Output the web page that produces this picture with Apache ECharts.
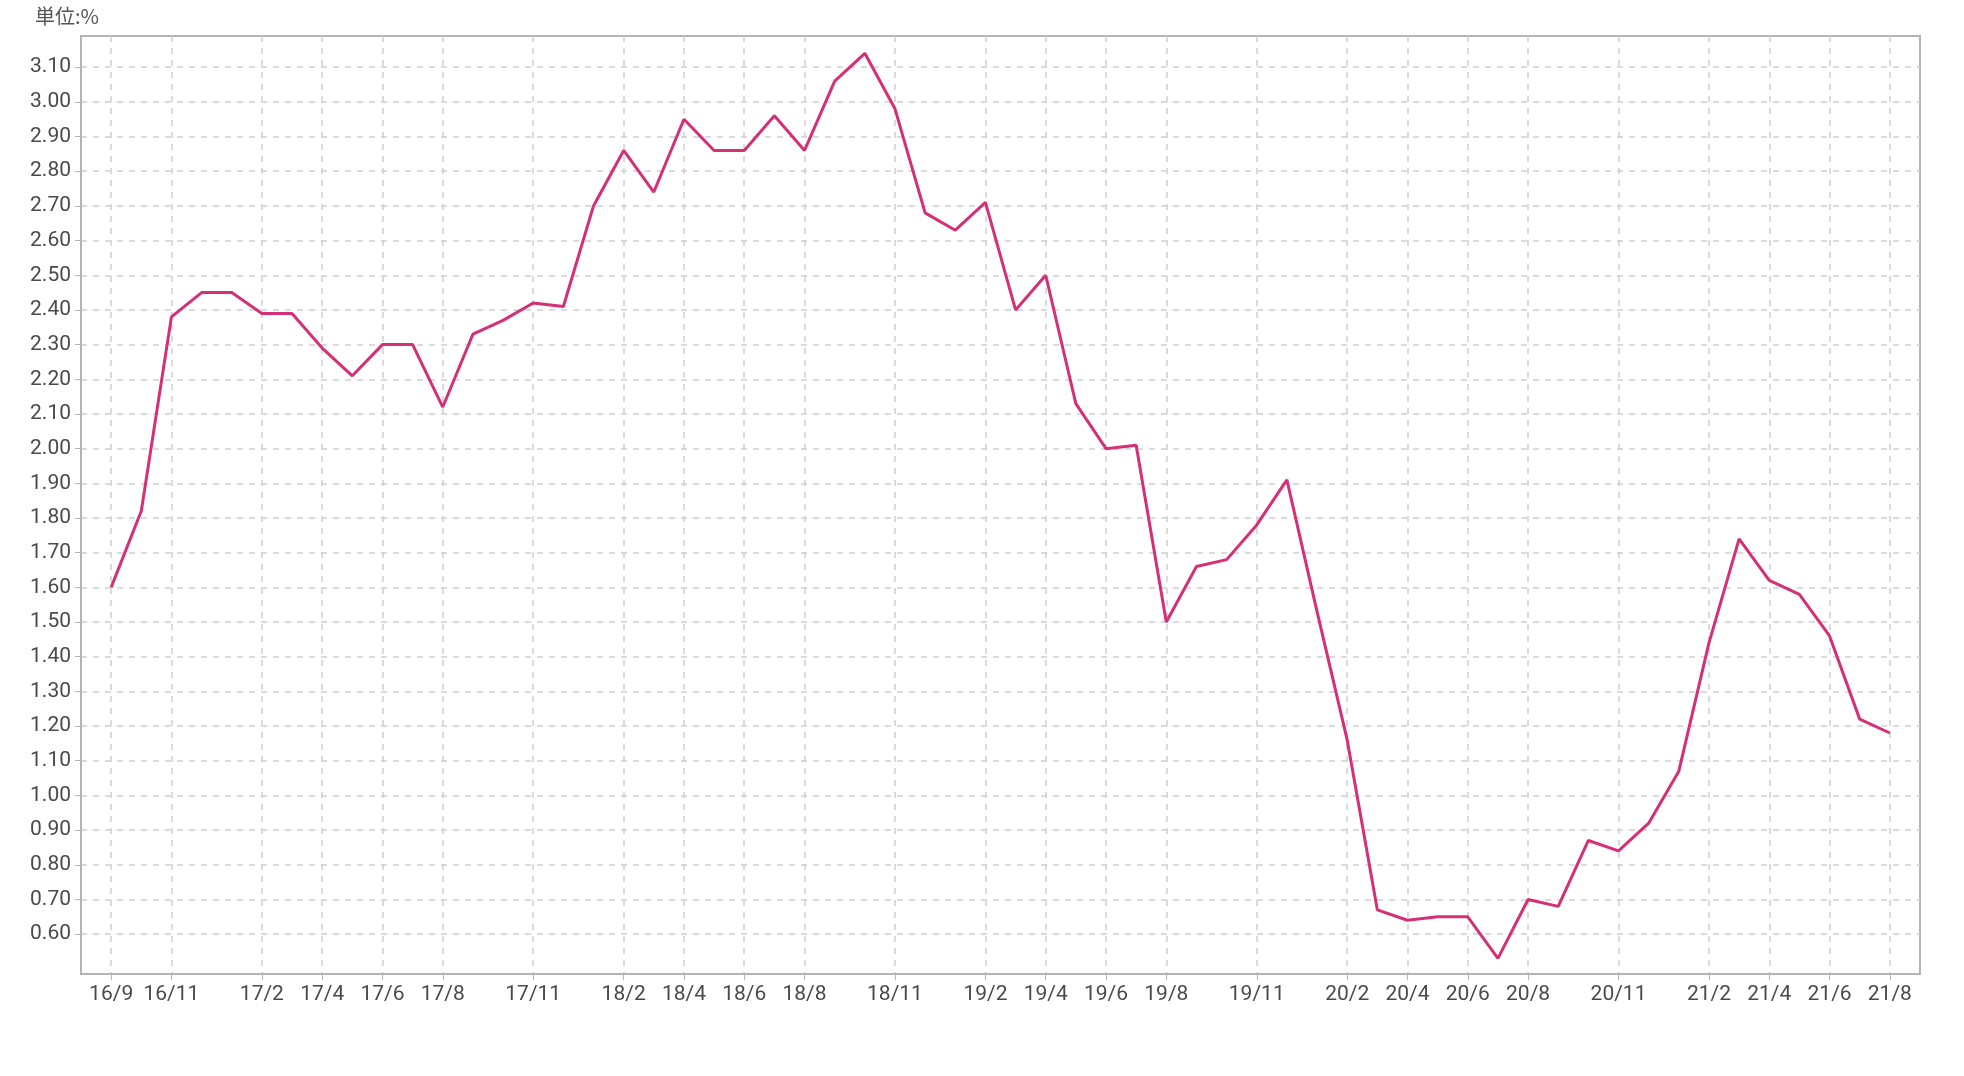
<!DOCTYPE html>
<html>
<head>
<meta charset="utf-8">
<script src="https://cdn.jsdelivr.net/npm/echarts@6/dist/echarts.min.js"></script>
<style>
html,body{margin:0;padding:0;background:#fff;}
#chart{width:1964px;height:1076px;}
</style>
</head>
<body>
<div id="chart"></div>
<script>
const months = [
  '16/9','16/10','16/11','16/12',
  '17/1','17/2','17/3','17/4','17/5','17/6','17/7','17/8','17/9','17/10','17/11','17/12',
  '18/1','18/2','18/3','18/4','18/5','18/6','18/7','18/8','18/9','18/10','18/11','18/12',
  '19/1','19/2','19/3','19/4','19/5','19/6','19/7','19/8','19/9','19/10','19/11','19/12',
  '20/1','20/2','20/3','20/4','20/5','20/6','20/7','20/8','20/9','20/10','20/11','20/12',
  '21/1','21/2','21/3','21/4','21/5','21/6','21/7','21/8'
];
const rates = [
  1.60, 1.82, 2.38, 2.45,
  2.45, 2.39, 2.39, 2.29, 2.21, 2.30, 2.30, 2.12, 2.33, 2.37, 2.42, 2.41,
  2.70, 2.86, 2.74, 2.95, 2.86, 2.86, 2.96, 2.86, 3.06, 3.14, 2.98, 2.68,
  2.63, 2.71, 2.40, 2.50, 2.13, 2.00, 2.01, 1.50, 1.66, 1.68, 1.78, 1.91,
  1.53, 1.16, 0.67, 0.64, 0.65, 0.65, 0.53, 0.70, 0.68, 0.87, 0.84, 0.92,
  1.07, 1.44, 1.74, 1.62, 1.58, 1.46, 1.22, 1.18
];
const shownLabels = [
  '16/9','16/11','17/2','17/4','17/6','17/8','17/11','18/2','18/4','18/6','18/8','18/11',
  '19/2','19/4','19/6','19/8','19/11','20/2','20/4','20/6','20/8','20/11','21/2','21/4','21/6','21/8'
];
const yTicks = [0.6,0.7,0.8,0.9,1.0,1.1,1.2,1.3,1.4,1.5,1.6,1.7,1.8,1.9,2.0,2.1,2.2,2.3,2.4,2.5,2.6,2.7,2.8,2.9,3.0,3.1];
const unitLabel = '単位:%';

// pad one empty slot at each end (the reference leaves one month of space on both sides)
const cats = [''].concat(months, ['']);
const vals = [null].concat(rates, [null]);
const shownSet = new Set(shownLabels);
const isShown = (idx, val) => shownSet.has(cats[idx]);

const chart = echarts.init(document.getElementById('chart'));
const textFont = '"Liberation Sans Narrow", "Roboto", "Noto Sans CJK JP", sans-serif';
chart.setOption({
  animation: false,
  backgroundColor: '#ffffff',
  title: {
    text: unitLabel,
    left: 30, top: 1,
    textStyle: { fontFamily: '"Noto Sans CJK JP", sans-serif', fontSize: 20, fontWeight: 'normal', color: '#555' }
  },
  grid: {
    left: 81, right: 44, top: 36, bottom: 102,
    show: true, borderColor: '#b4b4b4', borderWidth: 2, containLabel: false
  },
  xAxis: {
    type: 'category',
    data: cats,
    boundaryGap: false,
    axisLine: { lineStyle: { color: '#b4b4b4', width: 2 } },
    axisTick: { show: true, interval: isShown, length: 6, lineStyle: { color: '#b4b4b4' } },
    axisLabel: {
      interval: isShown, color: '#4a4a4a', fontFamily: textFont, fontSize: 21, margin: 10,
      hideOverlap: false
    },
    splitLine: { show: true, interval: isShown, lineStyle: { color: '#cfcfcf', type: [6, 6], width: 1.5 } }
  },
  yAxis: {
    type: 'value',
    min: 0.485,
    max: 3.19,
    axisLine: { show: true, lineStyle: { color: '#b4b4b4', width: 2 } },
    axisTick: { show: true, customValues: yTicks, length: 6, lineStyle: { color: '#b4b4b4' } },
    axisLabel: {
      customValues: yTicks, color: '#4a4a4a', fontFamily: textFont, fontSize: 21, margin: 10,
      formatter: v => v.toFixed(2)
    },
    splitLine: { show: true, lineStyle: { color: '#cfcfcf', type: [6, 6], width: 1.5 } }
  },
  series: [{
    type: 'line',
    data: vals,
    showSymbol: false,
    symbol: 'none',
    lineStyle: { color: '#d52f76', width: 3 },
    itemStyle: { color: '#d52f76' }
  }]
});
</script>
</body>
</html>
